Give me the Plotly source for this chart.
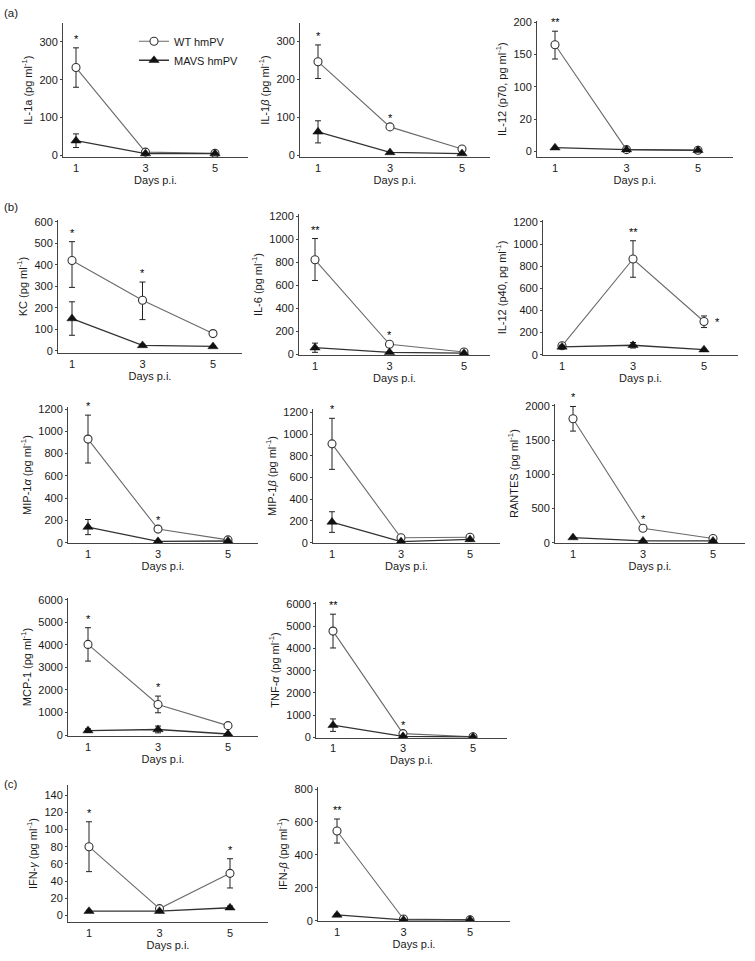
import plotly.graph_objects as go

W, H = 755, 961
days = [1, 3, 5]
x_ticks = [1, 3, 5]
series_names = ["WT hmPV", "MAVS hmPV"]

# ---- data (pg/ml) ----
il1a_wt = [232, 9, 6];      il1a_wt_up = [52, 0, 0];     il1a_wt_dn = [52, 0, 0]
il1a_mavs = [39, 5, 5];     il1a_mavs_err = [18, 0, 0]
il1a_sig = ["*", "", ""]

il1b_wt = [246, 75, 17];    il1b_wt_up = [44, 0, 0];     il1b_wt_dn = [44, 0, 0]
il1b_mavs = [62, 8, 5];     il1b_mavs_err = [29, 0, 0]
il1b_sig = ["*", "*", ""]

il12p70_wt = [165, 3, 2];   il12p70_wt_up = [21, 0, 0];  il12p70_wt_dn = [22, 0, 0]
il12p70_mavs = [6, 3, 2];   il12p70_mavs_err = [0, 0, 0]
il12p70_sig = ["**", "", ""]
il12p70_tickvals = [0, 50, 100, 150, 200]
il12p70_ticktext = ["0", "20", "100", "150", "200"]

kc_wt = [420, 235, 80];     kc_wt_up = [88, 85, 10];     kc_wt_dn = [125, 90, 10]
kc_mavs = [150, 25, 20];    kc_mavs_err = [78, 5, 3]
kc_sig = ["*", "*", ""]

il6_wt = [820, 85, 18];     il6_wt_up = [185, 0, 0];     il6_wt_dn = [180, 0, 0]
il6_mavs = [55, 15, 8];     il6_mavs_err = [40, 0, 0]
il6_sig = ["**", "*", ""]

il12p40_wt = [80, 865, 300]; il12p40_wt_up = [15, 165, 50]; il12p40_wt_dn = [15, 165, 55]
il12p40_mavs = [70, 85, 45]; il12p40_mavs_err = [15, 25, 5]
il12p40_sig = ["", "**", "*"]

mip1a_wt = [930, 122, 25];  mip1a_wt_up = [215, 0, 5];   mip1a_wt_dn = [215, 0, 5]
mip1a_mavs = [140, 12, 15]; mip1a_mavs_err = [68, 0, 0]
mip1a_sig = ["*", "*", ""]

mip1b_wt = [910, 45, 50];   mip1b_wt_up = [235, 0, 0];   mip1b_wt_dn = [235, 0, 0]
mip1b_mavs = [190, 10, 30]; mip1b_mavs_err = [95, 0, 0]
mip1b_sig = ["*", "", ""]

rantes_wt = [1810, 210, 60]; rantes_wt_up = [180, 0, 0]; rantes_wt_dn = [180, 0, 0]
rantes_mavs = [75, 25, 25];  rantes_mavs_err = [0, 0, 0]
rantes_sig = ["*", "*", ""]

mcp1_wt = [4020, 1360, 420]; mcp1_wt_up = [740, 370, 0]; mcp1_wt_dn = [740, 370, 0]
mcp1_mavs = [200, 250, 50];  mcp1_mavs_err = [80, 150, 0]
mcp1_sig = ["*", "*", ""]

tnfa_wt = [4780, 170, 30];  tnfa_wt_up = [760, 0, 0];    tnfa_wt_dn = [760, 0, 0]
tnfa_mavs = [550, 50, 20];  tnfa_mavs_err = [280, 0, 0]
tnfa_sig = ["**", "*", ""]

ifng_wt = [80, 8, 49];      ifng_wt_up = [29, 0, 17];    ifng_wt_dn = [29, 0, 17]
ifng_mavs = [5, 5, 9];      ifng_mavs_err = [1, 1, 2]
ifng_sig = ["*", "", "*"]

ifnb_wt = [545, 10, 5];     ifnb_wt_up = [73, 0, 0];     ifnb_wt_dn = [73, 0, 0]
ifnb_mavs = [35, 5, 5];     ifnb_mavs_err = [5, 0, 0]
ifnb_sig = ["**", "", ""]

PG = " (pg ml<sup>-1</sup>)"

# ---- panels: data refs + layout geometry (pixels) ----
panels = [
    dict(title="IL-1a" + PG, wt=il1a_wt, up=il1a_wt_up, dn=il1a_wt_dn, mv=il1a_mavs, me=il1a_mavs_err, sig=il1a_sig,
         ticks=[0, 100, 200, 300], geo=(63, 248, 18, 154, 76, 215), yr=(-5, 350), legend=True),
    dict(title="IL-1<i>β</i>" + PG, wt=il1b_wt, up=il1b_wt_up, dn=il1b_wt_dn, mv=il1b_mavs, me=il1b_mavs_err, sig=il1b_sig,
         ticks=[0, 100, 200, 300], geo=(300, 490, 18, 154, 318, 462), yr=(-5, 348)),
    dict(title="IL-12 (p70, pg ml<sup>-1</sup>)", wt=il12p70_wt, up=il12p70_wt_up, dn=il12p70_wt_dn, mv=il12p70_mavs,
         me=il12p70_mavs_err, sig=il12p70_sig, ticks=il12p70_tickvals, ticktext=il12p70_ticktext,
         geo=(537, 733, 16, 154, 555, 698), yr=(-9, 202)),
    dict(title="KC" + PG, wt=kc_wt, up=kc_wt_up, dn=kc_wt_dn, mv=kc_mavs, me=kc_mavs_err, sig=kc_sig,
         ticks=list(range(0, 601, 100)), geo=(58, 242, 217, 352, 72, 213), yr=(-12, 610)),
    dict(title="IL-6" + PG, wt=il6_wt, up=il6_wt_up, dn=il6_wt_dn, mv=il6_mavs, me=il6_mavs_err, sig=il6_sig,
         ticks=list(range(0, 1201, 200)), geo=(299, 490, 211, 354, 315, 464), yr=(-11, 1220)),
    dict(title="IL-12 (p40, pg ml<sup>-1</sup>)", wt=il12p40_wt, up=il12p40_wt_up, dn=il12p40_wt_dn, mv=il12p40_mavs,
         me=il12p40_mavs_err, sig=il12p40_sig, ticks=list(range(0, 1201, 200)),
         geo=(543, 738, 217, 354, 562, 704), yr=(-6, 1220), side_star=2),
    dict(title="MIP-1<i>α</i>" + PG, wt=mip1a_wt, up=mip1a_wt_up, dn=mip1a_wt_dn, mv=mip1a_mavs, me=mip1a_mavs_err,
         sig=mip1a_sig, ticks=list(range(0, 1201, 200)), geo=(68, 258, 406, 544, 88, 228), yr=(-6, 1220)),
    dict(title="MIP-1<i>β</i>" + PG, wt=mip1b_wt, up=mip1b_wt_up, dn=mip1b_wt_dn, mv=mip1b_mavs, me=mip1b_mavs_err,
         sig=mip1b_sig, ticks=list(range(0, 1201, 200)), geo=(313, 500, 408, 544, 332, 470), yr=(-6, 1233)),
    dict(title="RANTES" + PG, wt=rantes_wt, up=rantes_wt_up, dn=rantes_wt_dn, mv=rantes_mavs, me=rantes_mavs_err,
         sig=rantes_sig, ticks=list(range(0, 2001, 500)), geo=(555, 745, 403, 544, 573, 713), yr=(-10, 2029)),
    dict(title="MCP-1" + PG, wt=mcp1_wt, up=mcp1_wt_up, dn=mcp1_wt_dn, mv=mcp1_mavs, me=mcp1_mavs_err,
         sig=mcp1_sig, ticks=list(range(0, 6001, 1000)), geo=(68, 258, 599, 739, 88, 228), yr=(-53, 6088)),
    dict(title="TNF-<i>α</i>" + PG, wt=tnfa_wt, up=tnfa_wt_up, dn=tnfa_wt_dn, mv=tnfa_mavs, me=tnfa_mavs_err,
         sig=tnfa_sig, ticks=list(range(0, 6001, 1000)), geo=(316, 507, 603, 741, 333, 473), yr=(-40, 6100)),
    dict(title="IFN-<i>γ</i>" + PG, wt=ifng_wt, up=ifng_wt_up, dn=ifng_wt_dn, mv=ifng_mavs, me=ifng_mavs_err,
         sig=ifng_sig, ticks=list(range(0, 141, 20)), geo=(68, 268, 788, 927, 89, 230), yr=(-8, 152)),
    dict(title="IFN-<i>β</i>" + PG, wt=ifnb_wt, up=ifnb_wt_up, dn=ifnb_wt_dn, mv=ifnb_mavs, me=ifnb_mavs_err,
         sig=ifnb_sig, ticks=list(range(0, 801, 200)), geo=(318, 510, 790, 926, 337, 470), yr=(-4, 814)),
]

FONT = "Liberation Sans, Arial, sans-serif"
INK = "#1a1a1a"
fig = go.Figure()
annotations = []
layout = {}

for i, p in enumerate(panels):
    k = "" if i == 0 else str(i + 1)
    left, right, top, bottom, p1, p5 = p["geo"]
    s = (p5 - p1) / 4.0
    xr = [1 - (p1 - left) / s, 5 + (right - p5) / s]
    xa, ya = "x" + k, "y" + k
    show_leg = p.get("legend", False)

    fig.add_trace(go.Scatter(
        x=days, y=p["wt"], xaxis=xa, yaxis=ya, name=series_names[0], showlegend=show_leg,
        mode="lines+markers",
        line=dict(color="#6a6a6a", width=1.1),
        marker=dict(symbol="circle", size=8, color="white", line=dict(color="#333333", width=1.1)),
        error_y=dict(type="data", array=p["up"], arrayminus=p["dn"], symmetric=False,
                     color="#222222", thickness=1, width=3),
    ))
    fig.add_trace(go.Scatter(
        x=days, y=p["mv"], xaxis=xa, yaxis=ya, name=series_names[1], showlegend=show_leg,
        mode="lines+markers",
        line=dict(color="#333333", width=1.3),
        marker=dict(symbol="triangle-up", size=9, color="#111111", line=dict(color="#111111", width=0.5)),
        error_y=dict(type="data", array=p["me"], color="#222222", thickness=1, width=3),
    ))

    layout["xaxis" + k] = dict(
        domain=[left / W, right / W], anchor=ya, range=xr, tickvals=x_ticks,
        showline=True, linecolor="#444444", linewidth=1, ticks="", showgrid=False, zeroline=False,
        tickfont=dict(family=FONT, size=11, color=INK),
        title=dict(text="Days p.i.", font=dict(family=FONT, size=11, color=INK), standoff=2),
    )
    yax = dict(
        domain=[1 - bottom / H, 1 - top / H], anchor=xa, range=list(p["yr"]), tickvals=p["ticks"],
        showline=True, linecolor="#444444", linewidth=1, ticks="outside", ticklen=2, tickcolor="#444444",
        showgrid=False, zeroline=False,
        tickfont=dict(family=FONT, size=11, color=INK),
        title=dict(text=p["title"], font=dict(family=FONT, size=11, color=INK), standoff=4),
    )
    if "ticktext" in p:
        yax["ticktext"] = p["ticktext"]
    layout["yaxis" + k] = yax

    for j, sg in enumerate(p["sig"]):
        if not sg:
            continue
        if p.get("side_star") == j:
            annotations.append(dict(x=days[j], y=p["wt"][j], xref=xa, yref=ya, text=sg, showarrow=False,
                                    xshift=13, yshift=-1, font=dict(family=FONT, size=11, color="#000000")))
        else:
            annotations.append(dict(x=days[j], y=p["wt"][j] + p["up"][j], xref=xa, yref=ya, text=sg,
                                    showarrow=False, yshift=9, font=dict(family=FONT, size=11, color="#000000")))

for lab, yy in [("(a)", 8), ("(b)", 204), ("(c)", 787)]:
    annotations.append(dict(x=2 / W, y=1 - yy / H, xref="paper", yref="paper", text=lab, showarrow=False,
                            xanchor="left", yanchor="middle", font=dict(family=FONT, size=11.5, color=INK)))

fig.update_layout(
    width=W, height=H, margin=dict(l=0, r=0, t=0, b=0),
    paper_bgcolor="white", plot_bgcolor="white",
    font=dict(family=FONT, size=11, color=INK),
    showlegend=True,
    legend=dict(x=134 / W, y=1 - 22 / H, xanchor="left", yanchor="top", bgcolor="rgba(0,0,0,0)",
                font=dict(family=FONT, size=11, color=INK), tracegroupgap=0, itemwidth=30),
    annotations=annotations,
    **layout,
)

fig.write_html("out.html", config={"displayModeBar": False},
               post_script="document.body.style.margin='0';document.body.style.overflow='hidden';")
